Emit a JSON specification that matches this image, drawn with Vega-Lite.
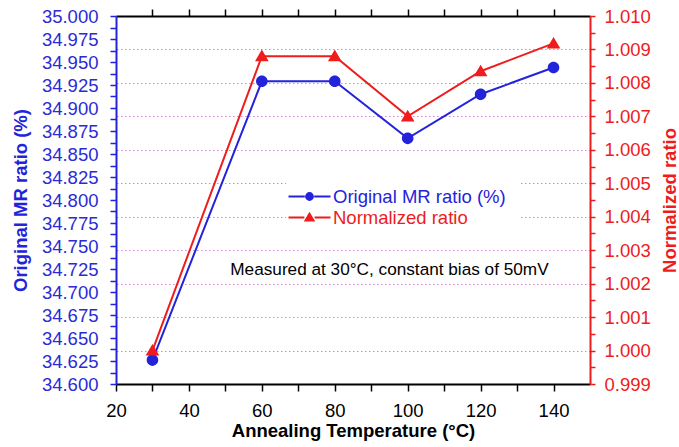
{
  "$schema": "https://vega.github.io/schema/vega-lite/v6.json",
  "width": 474,
  "height": 368,
  "autosize": "none",
  "padding": {"left": 116, "top": 16, "right": 89, "bottom": 63},
  "background": "white",
  "config": {
    "view": {"stroke": null},
    "font": "Liberation Sans",
    "axis": {"labelFont": "Liberation Sans", "titleFont": "Liberation Sans", "labelOverlap": false, "labelFlush": false, "labelBound": false}
  },
  "data": {
    "values": [
      {"T": 30, "series": "Original MR ratio (%)", "value": 34.626},
      {"T": 60, "series": "Original MR ratio (%)", "value": 34.929},
      {"T": 80, "series": "Original MR ratio (%)", "value": 34.929},
      {"T": 100, "series": "Original MR ratio (%)", "value": 34.867},
      {"T": 120, "series": "Original MR ratio (%)", "value": 34.915},
      {"T": 140, "series": "Original MR ratio (%)", "value": 34.944},
      {"T": 30, "series": "Normalized ratio", "value": 1.0000},
      {"T": 60, "series": "Normalized ratio", "value": 1.0088},
      {"T": 80, "series": "Normalized ratio", "value": 1.0088},
      {"T": 100, "series": "Normalized ratio", "value": 1.0070},
      {"T": 120, "series": "Normalized ratio", "value": 1.00835},
      {"T": 140, "series": "Normalized ratio", "value": 1.00918}
    ]
  },
  "layer": [
    {
      "data": {"values": [{"note": "Measured at 30°C, constant bias of 50mV", "xpos": 95, "ypos": 1.0024}]},
      "mark": {"type": "text", "fontSize": 17.2, "font": "Liberation Sans", "color": "black", "align": "center", "baseline": "middle"},
      "encoding": {
        "x": {"field": "xpos", "type": "quantitative", "scale": {"domain": [20, 150], "nice": false, "zero": false}, "axis": null},
        "y": {
          "field": "ypos", "type": "quantitative", "scale": {"domain": [0.999, 1.010], "nice": false, "zero": false},
          "axis": {
            "orient": "right", "title": null, "labels": false, "ticks": false, "domain": false,
            "values": [1.0, 1.001, 1.002, 1.003, 1.004, 1.005, 1.006, 1.007, 1.008, 1.009],
            "grid": true, "gridColor": "#e27ae2", "gridDash": [1.5, 2.5], "gridWidth": 1.2
          }
        },
        "text": {"field": "note"}
      }
    },
    {
      "transform": [{"filter": "datum.series === 'Normalized ratio'"}],
      "mark": {"type": "line", "color": "#ee1c1c", "strokeWidth": 2},
      "encoding": {
        "x": {
          "field": "T", "type": "quantitative",
          "scale": {"domain": [20, 150], "nice": false, "zero": false},
          "axis": {
            "orient": "top", "title": null, "labels": false,
            "values": [30, 40, 50, 60, 70, 80, 90, 100, 110, 120, 130, 140],
            "grid": false, "domainColor": "black", "domainWidth": 2,
            "tickColor": "black", "tickWidth": 1.5, "tickSize": 7,
            "encode": {"ticks": {"y2": {"condition": {"test": "datum.value % 20 === 0", "value": 7}, "value": 4}}}
          }
        },
        "y": {
          "field": "value", "type": "quantitative",
          "scale": {"domain": [0.999, 1.010], "nice": false, "zero": false},
          "axis": {
            "orient": "right", "title": "Normalized ratio",
            "values": [0.999, 0.9995, 1.0, 1.0005, 1.001, 1.0015, 1.002, 1.0025, 1.003, 1.0035, 1.004, 1.0045, 1.005, 1.0055, 1.006, 1.0065, 1.007, 1.0075, 1.008, 1.0085, 1.009, 1.0095, 1.01],
            "labelExpr": "round(datum.value * 2000) % 2 === 0 ? format(datum.value, '.3f') : ''",
            "grid": false,
            "domainColor": "#ee1c1c", "domainWidth": 2,
            "tickColor": "#ee1c1c", "tickWidth": 1.5, "tickSize": 5,
            "labelFontSize": 18.5, "labelColor": "#ee1c1c", "labelPadding": 9,
            "titleFontSize": 18.5, "titleFontWeight": "bold", "titleColor": "#ee1c1c", "titlePadding": 10,
            "titleAngle": 270, "titleBaseline": "top",
            "encode": {
              "ticks": {"x2": {"condition": {"test": "round(datum.value * 2000) % 2 === 0", "value": 5}, "value": 3}}
            }
          }
        }
      }
    },
    {
      "transform": [{"filter": "datum.series === 'Original MR ratio (%)'"}],
      "mark": {"type": "line", "color": "#2323dc", "strokeWidth": 2},
      "encoding": {
        "x": {
          "field": "T", "type": "quantitative",
          "scale": {"domain": [20, 150], "nice": false, "zero": false},
          "axis": {
            "orient": "bottom", "title": "Annealing Temperature (°C)",
            "values": [20, 30, 40, 50, 60, 70, 80, 90, 100, 110, 120, 130, 140],
            "labelExpr": "datum.value % 20 === 0 ? datum.label : ''",
            "grid": false, "domainColor": "black", "domainWidth": 2,
            "tickColor": "black", "tickWidth": 1.5, "tickSize": 7,
            "labelFontSize": 18.5, "labelColor": "black", "labelPadding": 10,
            "titleFontSize": 18.5, "titleFontWeight": "bold", "titleColor": "black", "titlePadding": 2,
            "encode": {"ticks": {"y2": {"condition": {"test": "datum.value % 20 === 0", "value": 7}, "value": 4}}}
          }
        },
        "y": {
          "field": "value", "type": "quantitative",
          "scale": {"domain": [34.6, 35.0], "nice": false, "zero": false},
          "axis": {
            "orient": "left", "title": "Original MR ratio (%)",
            "values": [34.6, 34.6125, 34.625, 34.6375, 34.65, 34.6625, 34.675, 34.6875, 34.7, 34.7125, 34.725, 34.7375, 34.75, 34.7625, 34.775, 34.7875, 34.8, 34.8125, 34.825, 34.8375, 34.85, 34.8625, 34.875, 34.8875, 34.9, 34.9125, 34.925, 34.9375, 34.95, 34.9625, 34.975, 34.9875, 35.0],
            "labelExpr": "round(datum.value * 80) % 2 === 0 ? format(datum.value, '.3f') : ''",
            "grid": false, "domainColor": "#2323dc", "domainWidth": 2,
            "tickColor": "#2323dc", "tickWidth": 1.5, "tickSize": 6,
            "labelFontSize": 18.5, "labelColor": "#2b2bd6", "labelPadding": 12,
            "titleFontSize": 18.5, "titleFontWeight": "bold", "titleColor": "#2323dc", "titlePadding": 11,
            "encode": {"ticks": {"x2": {"condition": {"test": "round(datum.value * 80) % 2 === 0", "value": -6}, "value": -3}}}
          }
        }
      }
    },
    {
      "transform": [{"filter": "datum.series === 'Original MR ratio (%)'"}],
      "mark": {"type": "point", "filled": true, "size": 841, "opacity": 1},
      "encoding": {
        "x": {"field": "T", "type": "quantitative", "scale": {"domain": [20, 150], "nice": false, "zero": false}, "axis": null},
        "y": {"field": "value", "type": "quantitative", "scale": {"domain": [34.6, 35.0], "nice": false, "zero": false}, "axis": null},
        "fill": {
          "field": "series", "type": "nominal",
          "scale": {"domain": ["Original MR ratio (%)", "Normalized ratio"], "range": ["#2323dc", "#ee1c1c"]},
          "legend": {
            "title": null, "orient": "none", "legendX": 170, "legendY": 157, "direction": "vertical",
            "fillColor": "white", "padding": 14, "symbolSize": 289, "symbolStrokeWidth": 2,
            "labelFont": "Liberation Sans", "labelFontSize": 18.5, "labelOffset": 14, "rowPadding": 2, "labelLimit": 400,
            "labelColor": {"expr": "datum.value === 'Normalized ratio' ? '#ee1c1c' : '#2323dc'"}
          }
        },
        "stroke": {
          "field": "series", "type": "nominal",
          "scale": {"domain": ["Original MR ratio (%)", "Normalized ratio"], "range": ["#2323dc", "#ee1c1c"]}
        },
        "shape": {
          "field": "series", "type": "nominal",
          "scale": {"domain": ["Original MR ratio (%)", "Normalized ratio"], "range": ["M-2.47,0H-0.55M0.55,0H2.47M0.4,0A0.4,0.4,0,1,1,-0.4,0A0.4,0.4,0,1,1,0.4,0Z", "M-2.47,0H-0.6M0.6,0H2.47M0,-0.45L0.47,0.35L-0.47,0.35Z"]}
        },
        "strokeWidth": {"value": 0}
      }
    },
    {
      "transform": [{"filter": "datum.series === 'Normalized ratio'"}],
      "mark": {"type": "point", "filled": true, "size": 841, "opacity": 1},
      "encoding": {
        "x": {"field": "T", "type": "quantitative", "scale": {"domain": [20, 150], "nice": false, "zero": false}, "axis": null},
        "y": {"field": "value", "type": "quantitative", "scale": {"domain": [0.999, 1.010], "nice": false, "zero": false}, "axis": null},
        "fill": {
          "field": "series", "type": "nominal",
          "scale": {"domain": ["Original MR ratio (%)", "Normalized ratio"], "range": ["#2323dc", "#ee1c1c"]}
        },
        "stroke": {
          "field": "series", "type": "nominal",
          "scale": {"domain": ["Original MR ratio (%)", "Normalized ratio"], "range": ["#2323dc", "#ee1c1c"]}
        },
        "shape": {
          "field": "series", "type": "nominal",
          "scale": {"domain": ["Original MR ratio (%)", "Normalized ratio"], "range": ["M-2.47,0H-0.55M0.55,0H2.47M0.4,0A0.4,0.4,0,1,1,-0.4,0A0.4,0.4,0,1,1,0.4,0Z", "M-2.47,0H-0.6M0.6,0H2.47M0,-0.45L0.47,0.35L-0.47,0.35Z"]}
        },
        "strokeWidth": {"value": 0}
      }
    }
  ],
  "resolve": {"scale": {"y": "independent"}, "axis": {"x": "independent", "y": "independent"}}
}
